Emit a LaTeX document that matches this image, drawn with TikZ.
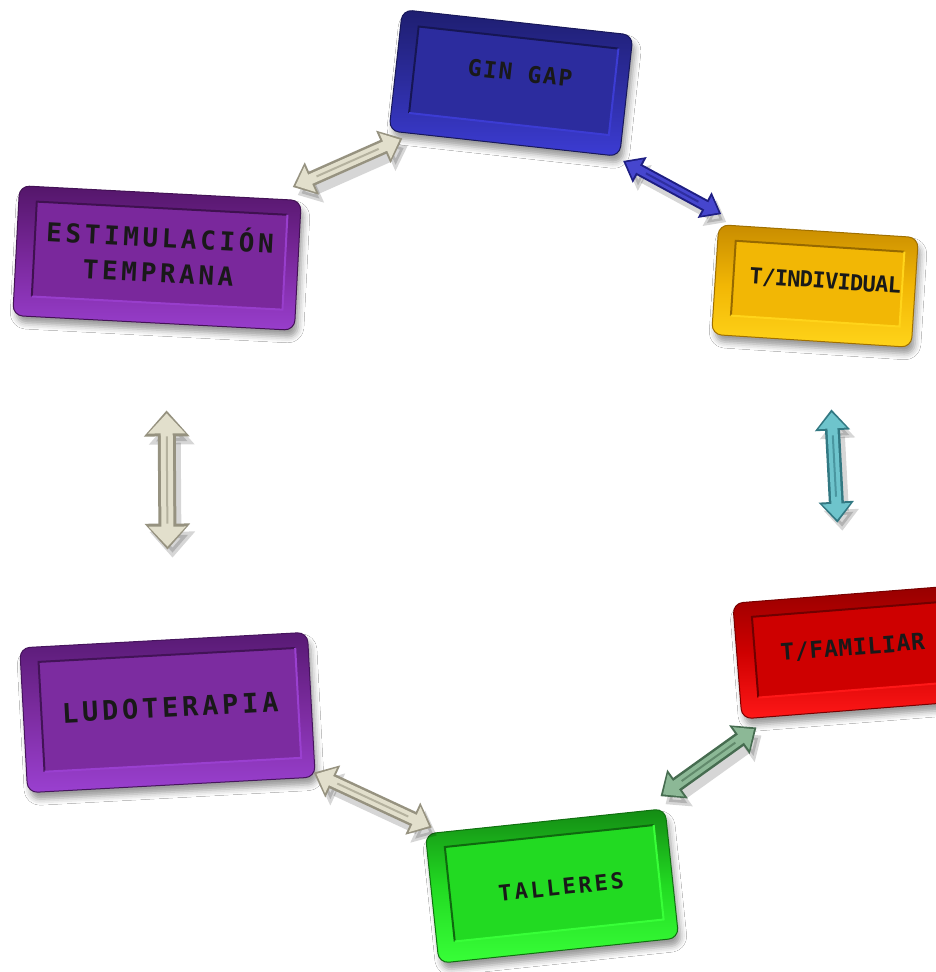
\documentclass[tikz,border=0pt]{standalone}
\usepackage{fontspec}
\usetikzlibrary{arrows.meta,shadows.blur}
\newfontfamily\monoGin{DejaVu Sans Mono Bold}[LetterSpace=7]
\newfontfamily\monoWide{DejaVu Sans Mono Bold}[LetterSpace=14]
\newfontfamily\monoInd{DejaVu Sans Mono Bold}[LetterSpace=-3]
\newfontfamily\monoFam{DejaVu Sans Mono Bold}[LetterSpace=3]
\newfontfamily\monoTal{DejaVu Sans Mono Bold}[LetterSpace=13]
% box colours: dark / base / light
\definecolor{ginD}{RGB}{30,30,112}\definecolor{ginB}{RGB}{44,44,158}\definecolor{ginL}{RGB}{60,60,212}
\definecolor{estD}{RGB}{84,22,106}\definecolor{estB}{RGB}{122,40,156}\definecolor{estL}{RGB}{152,62,204}
\definecolor{indD}{RGB}{200,140,0}\definecolor{indB}{RGB}{242,183,5}\definecolor{indL}{RGB}{255,212,26}
\definecolor{famD}{RGB}{150,0,0}\definecolor{famB}{RGB}{206,0,0}\definecolor{famL}{RGB}{255,24,24}
\definecolor{talD}{RGB}{20,140,20}\definecolor{talB}{RGB}{34,218,34}\definecolor{talL}{RGB}{56,255,56}
\definecolor{ludD}{RGB}{88,26,116}\definecolor{ludB}{RGB}{124,44,160}\definecolor{ludL}{RGB}{154,64,208}
% arrow colours
\definecolor{begD}{RGB}{150,146,128}\definecolor{begL}{RGB}{226,223,204}
\definecolor{bluD}{RGB}{30,30,130}\definecolor{bluL}{RGB}{70,70,206}
\definecolor{teaD}{RGB}{50,120,130}\definecolor{teaL}{RGB}{110,196,204}
\definecolor{grnD}{RGB}{70,108,80}\definecolor{grnL}{RGB}{140,184,150}
\tikzset{
  tbox/.style n args={3}{rectangle, rounded corners=10pt, transform shape, inner sep=0pt,
    draw=#1!80!black, line width=1pt, top color=#1, bottom color=#3, middle color=#2,
    blur shadow={shadow xshift=3pt, shadow yshift=-7pt, shadow blur radius=6pt, shadow opacity=40}},
  lbl/.style={transform shape, inner sep=0pt, text=black!90, align=center},
  arrM/.style={line width=15pt, {Triangle[width=34pt,length=21pt]}-{Triangle[width=34pt,length=21pt]}},
  arrMin/.style={line width=10pt, shorten <=3pt, shorten >=3pt, {Triangle[width=27pt,length=16pt]}-{Triangle[width=27pt,length=16pt]}},
  arrS/.style={line width=12pt, {Triangle[width=28pt,length=19pt]}-{Triangle[width=28pt,length=19pt]}},
  arrSin/.style={line width=8pt, shorten <=3pt, shorten >=3pt, {Triangle[width=21pt,length=14pt]}-{Triangle[width=21pt,length=14pt]}},
  arrL/.style={line width=18pt, {Triangle[width=44pt,length=26pt]}-{Triangle[width=44pt,length=26pt]}},
  arrLin/.style={line width=12pt, shorten <=3pt, shorten >=3pt, {Triangle[width=36pt,length=20pt]}-{Triangle[width=36pt,length=20pt]}},
  arrshadow/.style={draw=black, opacity=0.16},
}
\newcommand\boxface[5]{%
  \fill[#4] (-#1/2+18,-#2/2+15) rectangle (#1/2-13,#2/2-20);
  \draw[#3!75!black, line width=2pt] (-#1/2+18,#2/2-20) -- (-#1/2+18,-#2/2+15) -- (#1/2-13,-#2/2+15);
  \draw[#5, line width=2pt] (#1/2-13,-#2/2+15) -- (#1/2-13,#2/2-20) -- (-#1/2+18,#2/2-20);
}
% #1 dark, #2 light, #3 from, #4 to, #5 outer style, #6 inner style
\newcommand\dblarrow[6]{%
  \draw[arrshadow,#5,transform canvas={shift={(5,8)}}] (#3) -- (#4);
  \draw[#1,#5] (#3) -- (#4);
  \draw[#2,#6] (#3) -- (#4);
  \draw[#1!60!#2, line width=2pt, shorten <=26pt, shorten >=26pt] (#3) -- (#4);
}
\begin{document}
\begin{tikzpicture}[x=1pt,y=-1pt]
\useasboundingbox (0,0) rectangle (936,972);
\fill[white] (0,0) rectangle (936,972);
\clip (0,0) rectangle (936,972);
% GIN GAP
\begin{scope}[shift={(511,83)}, rotate=-6.3]
  \node[tbox={ginD}{ginB}{ginL}, minimum width=232pt, minimum height=122pt] (gin) at (0,0) {};
  \boxface{232}{122}{ginD}{ginB}{ginL}
  \node[lbl, font=\monoGin\fontsize{23}{26}\selectfont] (gin-t) at (8,-11) {GIN GAP};
\end{scope}
% ESTIMULACION TEMPRANA
\begin{scope}[shift={(157,258)}, rotate=-3]
  \node[tbox={estD}{estB}{estL}, minimum width=282pt, minimum height=130pt] (est) at (0,0) {};
  \boxface{282}{130}{estD}{estB}{estL}
  \node[lbl, font=\monoWide\fontsize{26}{35}\selectfont] (est-t) at (2,-5) {ESTIMULACIÓN\\TEMPRANA};
\end{scope}
% T/INDIVIDUAL
\begin{scope}[shift={(815,286)}, rotate=-3.7]
  \node[tbox={indD}{indB}{indL}, minimum width=200pt, minimum height=110pt] (ind) at (0,0) {};
  \boxface{200}{110}{indD}{indB}{indL}
  \node[lbl, font=\monoInd\fontsize{22}{26}\selectfont] (ind-t) at (10,-5) {T/INDIVIDUAL};
\end{scope}
% T/FAMILIAR
\begin{scope}[shift={(853,652)}, rotate=4.5]
  \node[tbox={famD}{famB}{famL}, minimum width=232pt, minimum height=116pt] (fam) at (0,0) {};
  \boxface{232}{116}{famD}{famB}{famL}
  \node[lbl, font=\monoFam\fontsize{23}{26}\selectfont] (fam-t) at (0,-4) {T/FAMILIAR};
\end{scope}
% TALLERES
\begin{scope}[shift={(552,886)}, rotate=6]
  \node[tbox={talD}{talB}{talL}, minimum width=241pt, minimum height=130pt] (tal) at (0,0) {};
  \boxface{241}{130}{talD}{talB}{talL}
  \node[lbl, font=\monoTal\fontsize{22}{26}\selectfont] (tal-t) at (9,2) {TALLERES};
\end{scope}
% LUDOTERAPIA
\begin{scope}[shift={(167.5,712.5)}, rotate=3.1]
  \node[tbox={ludD}{ludB}{ludL}, minimum width=288pt, minimum height=145pt] (ludo) at (0,0) {};
  \boxface{288}{145}{ludD}{ludB}{ludL}
  \node[lbl, font=\monoWide\fontsize{27}{30}\selectfont] (ludo-t) at (3,-5) {LUDOTERAPIA};
\end{scope}
% connectors
\dblarrow{begD}{begL}{[shift={(14,7)}]gin.south west}{[shift={(-9,-13)}]est.north east}{arrM}{arrMin}
\dblarrow{bluD}{bluL}{[shift={(3,4)}]gin.south east}{[shift={(3,-10)}]ind.north west}{arrS}{arrSin}
\dblarrow{teaD}{teaL}{[shift={(20,68)}]ind.south}{[shift={(-11,-71)}]fam.north}{arrM}{arrMin}
\dblarrow{grnD}{grnL}{[shift={(15,8)}]fam.south west}{[shift={(-5,-12)}]tal.north east}{arrM}{arrMin}
\dblarrow{begD}{begL}{[shift={(7,-6)}]tal.north west}{[shift={(-2,-5)}]ludo.south east}{arrM}{arrMin}
\dblarrow{begD}{begL}{[shift={(13,87)}]est.south}{[shift={(4,-90)}]ludo.north}{arrL}{arrLin}
\end{tikzpicture}
\end{document}
